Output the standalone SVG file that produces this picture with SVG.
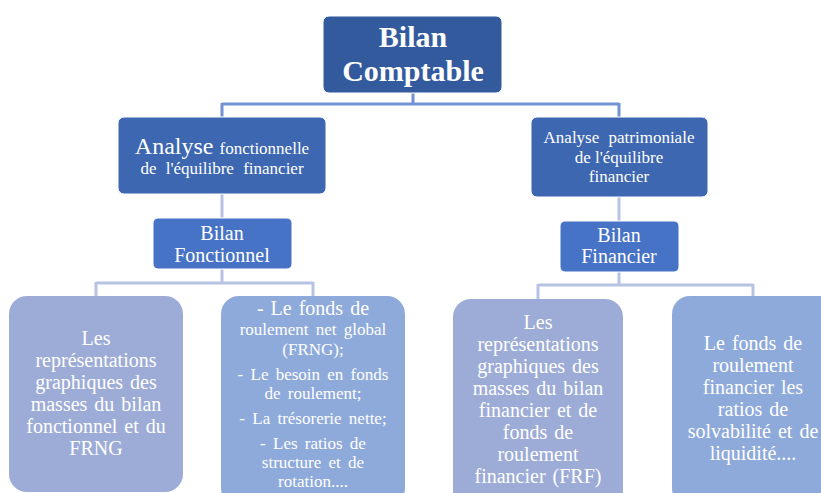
<svg xmlns="http://www.w3.org/2000/svg" width="821" height="493" viewBox="0 0 821 493">
<style>
text{font-family:"Liberation Serif","Times New Roman",serif;fill:#ffffff;text-anchor:middle}
.c1{fill:none;stroke:#7292d2;stroke-width:3}
.c2{fill:none;stroke:#b7c3e2;stroke-width:3}
.top{fill:#345a9e;stroke:#ffffff;stroke-width:1}
.mid{fill:#3d67b1;stroke:#ffffff;stroke-width:1}
.bil{fill:#4673c5;stroke:#ffffff;stroke-width:1}
.lav{fill:#9dacd7}
.blu{fill:#8eaadb}
.t20{font-size:20px;word-spacing:2px}
.t17{font-size:17px;word-spacing:3px}
</style>
<g id="connectors">
<path class="c1" d="M413,93 V104 M222,104 H619 M222,103 V117 M619,103 V117"/>
<path class="c2" d="M222,194 V218 M619,197 V221"/>
<path class="c2" d="M222,269 V283 M96,283 H313 M96,282 V296 M313,282 V296"/>
<path class="c2" d="M619,272 V285 M538,285 H753 M538,284 V299 M753,284 V296"/>
</g>
<g id="bilan-comptable">
<rect class="top" x="323" y="16" width="179" height="77" rx="6"/>
<text x="413" y="47" font-size="30" font-weight="bold">Bilan</text>
<text x="413" y="81" font-size="30" font-weight="bold">Comptable</text>
</g>
<g id="analyse-fonctionnelle">
<rect class="mid" x="118" y="117" width="208" height="77" rx="6"/>
<text x="222" y="154"><tspan font-size="24">Analyse</tspan><tspan font-size="17" dx="6">fonctionnelle</tspan></text>
<text x="222" y="174" font-size="17" word-spacing="5">de l'équilibre financier</text>
</g>
<g id="analyse-patrimoniale">
<rect class="mid" x="531" y="117" width="177" height="80" rx="6"/>
<text x="619" y="143" font-size="17" word-spacing="5">Analyse patrimoniale</text>
<text x="619" y="163" font-size="17">de l'équilibre</text>
<text x="619" y="182" font-size="17">financier</text>
</g>
<g id="bilan-fonctionnel">
<rect class="bil" x="153" y="218" width="139" height="51" rx="5"/>
<text class="t20" x="222" y="240">Bilan</text>
<text class="t20" x="222" y="262">Fonctionnel</text>
</g>
<g id="bilan-financier">
<rect class="bil" x="560" y="221" width="119" height="51" rx="5"/>
<text class="t20" x="619" y="242">Bilan</text>
<text class="t20" x="619" y="263">Financier</text>
</g>
<g id="representations-fonctionnel">
<rect class="lav" x="9" y="296" width="174" height="196" rx="18"/>
<text class="t20" x="96" y="345">Les</text>
<text class="t20" x="96" y="367">représentations</text>
<text class="t20" x="96" y="389">graphiques des</text>
<text class="t20" x="96" y="411">masses du bilan</text>
<text class="t20" x="96" y="433">fonctionnel et du</text>
<text class="t20" x="96" y="455">FRNG</text>
</g>
<g id="indicateurs-fonctionnels">
<rect class="blu" x="221" y="296" width="184" height="210" rx="18"/>
<text class="t20" x="313" y="315">- Le fonds de</text>
<text class="t17" x="313" y="335">roulement net global</text>
<text class="t17" x="313" y="355">(FRNG);</text>
<text class="t17" x="313" y="380">- Le besoin en fonds</text>
<text class="t17" x="313" y="399">de roulement;</text>
<text class="t17" x="313" y="424">- La trésorerie nette;</text>
<text class="t17" x="313" y="449">- Les ratios de</text>
<text class="t17" x="313" y="468">structure et de</text>
<text class="t17" x="313" y="487">rotation....</text>
</g>
<g id="representations-financier">
<rect class="lav" x="453" y="299" width="170" height="210" rx="18"/>
<text class="t20" x="538" y="329">Les</text>
<text class="t20" x="538" y="351">représentations</text>
<text class="t20" x="538" y="373">graphiques des</text>
<text class="t20" x="538" y="395">masses du bilan</text>
<text class="t20" x="538" y="417">financier et de</text>
<text class="t20" x="538" y="439">fonds de</text>
<text class="t20" x="538" y="461">roulement</text>
<text class="t20" x="538" y="483">financier (FRF)</text>
</g>
<g id="indicateurs-financiers">
<rect class="blu" x="672" y="296" width="170" height="210" rx="18"/>
<text class="t20" x="753" y="350">Le fonds de</text>
<text class="t20" x="753" y="372">roulement</text>
<text class="t20" x="753" y="394">financier les</text>
<text class="t20" x="753" y="416">ratios de</text>
<text class="t20" x="753" y="438">solvabilité et de</text>
<text class="t20" x="753" y="460">liquidité....</text>
</g>
</svg>
